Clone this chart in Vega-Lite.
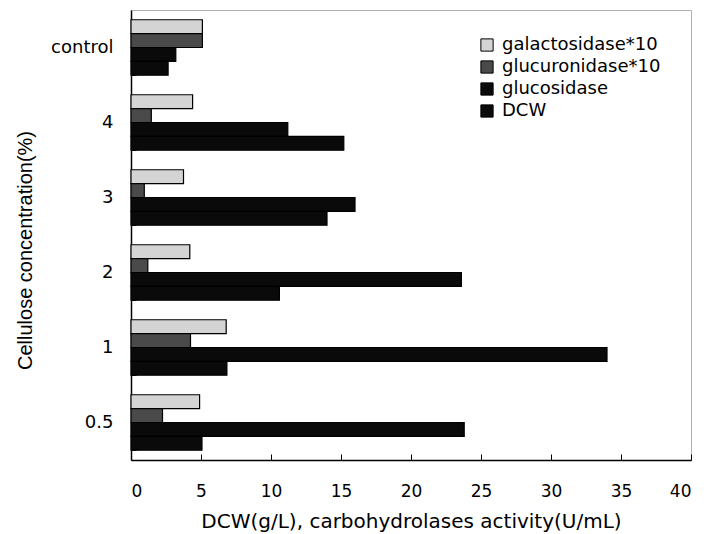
{
  "$schema": "https://vega.github.io/schema/vega-lite/v6.json",
  "width": 560,
  "height": 450,
  "autosize": {"type": "none"},
  "padding": {"left": 131, "top": 10, "right": 15, "bottom": 74},
  "background": "white",
  "config": {
    "view": {"stroke": "#b0b0b0", "strokeWidth": 1},
    "font": "Liberation Sans"
  },
  "data": {
    "values": [
      {"conc": "control", "series": "galactosidase*10", "value": 5.1},
      {"conc": "control", "series": "glucuronidase*10", "value": 5.1},
      {"conc": "control", "series": "glucosidase", "value": 3.2},
      {"conc": "control", "series": "DCW", "value": 2.65},
      {"conc": "4", "series": "galactosidase*10", "value": 4.4},
      {"conc": "4", "series": "glucuronidase*10", "value": 1.45},
      {"conc": "4", "series": "glucosidase", "value": 11.2},
      {"conc": "4", "series": "DCW", "value": 15.2},
      {"conc": "3", "series": "galactosidase*10", "value": 3.75},
      {"conc": "3", "series": "glucuronidase*10", "value": 0.95},
      {"conc": "3", "series": "glucosidase", "value": 16.0},
      {"conc": "3", "series": "DCW", "value": 14.0},
      {"conc": "2", "series": "galactosidase*10", "value": 4.2},
      {"conc": "2", "series": "glucuronidase*10", "value": 1.2},
      {"conc": "2", "series": "glucosidase", "value": 23.6},
      {"conc": "2", "series": "DCW", "value": 10.6},
      {"conc": "1", "series": "galactosidase*10", "value": 6.8},
      {"conc": "1", "series": "glucuronidase*10", "value": 4.25},
      {"conc": "1", "series": "glucosidase", "value": 34.0},
      {"conc": "1", "series": "DCW", "value": 6.85},
      {"conc": "0.5", "series": "galactosidase*10", "value": 4.9},
      {"conc": "0.5", "series": "glucuronidase*10", "value": 2.25},
      {"conc": "0.5", "series": "glucosidase", "value": 23.8},
      {"conc": "0.5", "series": "DCW", "value": 5.07}
    ]
  },
  "mark": {"type": "bar", "stroke": "black", "strokeWidth": 1.2},
  "encoding": {
    "y": {
      "field": "conc",
      "type": "nominal",
      "sort": ["control", "4", "3", "2", "1", "0.5"],
      "scale": {"paddingInner": 0.26, "paddingOuter": 0.13},
      "axis": {
        "title": "Cellulose concentration(%)",
        "titleFontSize": 20,
        "titleFontWeight": "normal",
        "titleColor": "black",
        "titlePadding": 15,
        "titleY": 240,
        "labelFontSize": 18,
        "labelColor": "black",
        "labelFont": "DejaVu Sans",
        "labelPadding": 23,
        "tickBand": "extent",
        "tickSize": -5,
        "tickColor": "black",
        "domainColor": "black",
        "domainWidth": 1.5
      }
    },
    "yOffset": {
      "field": "series",
      "type": "nominal",
      "sort": ["galactosidase*10", "glucuronidase*10", "glucosidase", "DCW"],
      "scale": {"paddingInner": 0}
    },
    "x": {
      "field": "value",
      "type": "quantitative",
      "scale": {"domain": [0, 40], "nice": false},
      "axis": {
        "title": "DCW(g/L), carbohydrolases activity(U/mL)",
        "titleFontSize": 20,
        "titleFontWeight": "normal",
        "titleFont": "DejaVu Sans",
        "titleColor": "black",
        "titlePadding": 12,
        "labelFontSize": 17,
        "labelFont": "DejaVu Sans",
        "labelColor": "black",
        "labelPadding": 29,
        "values": [0, 5, 10, 15, 20, 25, 30, 35, 40],
        "tickSize": -6,
        "tickColor": "black",
        "domainColor": "black",
        "domainWidth": 1.5,
        "grid": false
      }
    },
    "fill": {
      "field": "series",
      "type": "nominal",
      "sort": ["galactosidase*10", "glucuronidase*10", "glucosidase", "DCW"],
      "scale": {
        "domain": ["galactosidase*10", "glucuronidase*10", "glucosidase", "DCW"],
        "range": ["#d4d4d4", "#4a4a4a", "#0a0a0a", "#0a0a0a"]
      },
      "legend": {
        "title": null,
        "orient": "none",
        "legendX": 347,
        "legendY": 26,
        "symbolType": "square",
        "symbolSize": 150,
        "symbolStrokeColor": "black",
        "symbolStrokeWidth": 1,
        "labelFontSize": 18,
        "labelFont": "DejaVu Sans",
        "labelColor": "black",
        "rowPadding": 4,
        "labelOffset": 6
      }
    }
  }
}
